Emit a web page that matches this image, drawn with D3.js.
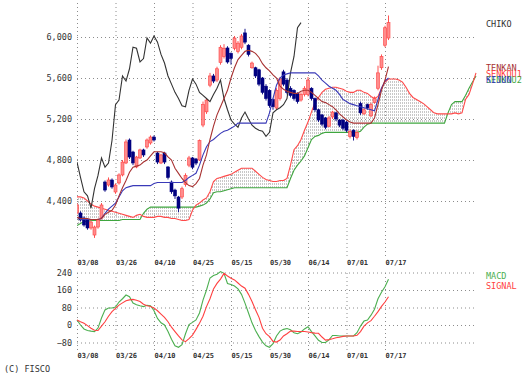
<!DOCTYPE html>
<html>
<head>
<meta charset="utf-8">
<script src="https://cdn.jsdelivr.net/npm/d3@7"></script>
<style>
  body { margin: 0; background: #fff; }
  svg { display: block; }
  text { font-family: "DejaVu Sans Mono", monospace; }
</style>
</head>
<body>
<svg width="531" height="381"></svg>
<script>
// bar index of each date label (one label every 11 trading days)
let tickLabels = ["03/08", "03/26", "04/10", "04/25", "05/15", "05/30", "06/14", "07/01", "07/17"];
let tickIndex = [0, 11, 22, 33, 44, 55, 66, 77, 88];

let priceTicks = [4400, 4800, 5200, 5600, 6000];
let macdTicks = [-80, 0, 80, 160, 240];

// daily candles, 90 bars
let opens = [
    4283, 4283, 4234, 4215, 4137, 4068, 4146, 4234, 4585, 4556,
    4605, 4488, 4576, 4654, 4771, 4995, 4878, 4732, 4820, 4898,
    4927, 4966, 5024, 4868, 4771, 4868, 4732, 4585, 4507, 4439,
    4439, 4560, 4750, 4820, 4810, 4800, 5141, 5270, 5530, 5620,
    5580, 5750, 5810, 5893, 5840, 5890, 5860, 5900, 6040, 5920,
    5700, 5700, 5680, 5600, 5520, 5480, 5390, 5307, 5400, 5660,
    5580, 5500, 5480, 5450, 5385, 5440, 5440, 5500, 5400, 5290,
    5240, 5210, 5130, 5220, 5260, 5190, 5190, 5170, 5030, 5090,
    5020, 5350, 5250, 5340, 5230, 5360, 5500, 5700, 5920, 5990];
let highs = [
    4380, 4300, 4250, 4230, 4210, 4160, 4230, 4380, 4600, 4630,
    4620, 4570, 4670, 4800, 5000, 5010, 4890, 4840, 4910, 4910,
    5010, 5040, 5040, 4880, 4860, 4880, 4740, 4600, 4520, 4450,
    4540, 4670, 4840, 4830, 4820, 5000, 5370, 5400, 5650, 5640,
    5710, 5920, 5930, 5910, 5850, 6010, 5960, 6030, 6080, 5930,
    5760, 5710, 5690, 5610, 5540, 5490, 5400, 5500, 5610, 5680,
    5600, 5520, 5490, 5460, 5460, 5520, 5610, 5510, 5410, 5300,
    5250, 5220, 5230, 5280, 5270, 5200, 5200, 5180, 5100, 5100,
    5090, 5370, 5310, 5350, 5360, 5420, 5720, 5830, 6110, 6210];
let lows = [
    4270, 4200, 4150, 4120, 4120, 4040, 4130, 4220, 4490, 4540,
    4520, 4470, 4560, 4640, 4760, 4810, 4750, 4720, 4810, 4830,
    4910, 4950, 4980, 4760, 4760, 4760, 4610, 4470, 4420, 4290,
    4420, 4540, 4730, 4710, 4750, 4790, 5120, 5250, 5510, 5550,
    5560, 5730, 5790, 5740, 5730, 5870, 5840, 5880, 5930, 5810,
    5690, 5600, 5520, 5440, 5380, 5310, 5290, 5290, 5380, 5520,
    5440, 5410, 5380, 5350, 5370, 5420, 5420, 5380, 5270, 5170,
    5130, 5100, 5120, 5200, 5180, 5120, 5090, 5070, 5010, 4990,
    5000, 5240, 5240, 5290, 5220, 5350, 5480, 5680, 5900, 5970];
let closes = [
    4361, 4215, 4166, 4137, 4195, 4146, 4215, 4361, 4507, 4605,
    4537, 4556, 4654, 4780, 4976, 4829, 4771, 4829, 4898, 4849,
    4995, 5024, 4995, 4780, 4849, 4780, 4630, 4490, 4450, 4330,
    4520, 4650, 4820, 4730, 4770, 4990, 5340, 5385, 5620, 5570,
    5690, 5900, 5890, 5756, 5790, 5990, 5940, 6010, 5950, 5830,
    5746, 5620, 5540, 5460, 5400, 5330, 5320, 5480, 5590, 5540,
    5460, 5430, 5400, 5370, 5440, 5500, 5580, 5400, 5290, 5190,
    5150, 5120, 5210, 5268, 5200, 5140, 5110, 5090, 5080, 5030,
    5070, 5260, 5290, 5310, 5340, 5400, 5650, 5810, 6090, 6140];

let tenkan = [
    4240, 4230, 4230, 4230, 4220, 4220, 4220, 4230, 4270, 4290,
    4310, 4360, 4450, 4530, 4600, 4680, 4730, 4740, 4750, 4780,
    4800, 4840, 4880, 4880, 4880, 4870, 4830, 4800, 4720, 4670,
    4620, 4580, 4550, 4540, 4570, 4620, 4750, 4850, 5000, 5130,
    5240, 5320, 5400, 5480, 5600, 5700, 5780, 5820, 5860, 5870,
    5860, 5840, 5800, 5740, 5700, 5670, 5630, 5600, 5520, 5490,
    5470, 5460, 5450, 5450, 5470, 5480, 5480, 5460, 5430, 5400,
    5370, 5360, 5340, 5320, 5290, 5250, 5220, 5190, 5170, 5160,
    5160, 5160, 5160, 5160, 5160, 5210, 5340, 5480, 5580, 5710];
let kijun = [
    4240, 4220, 4220, 4220, 4220, 4220, 4220, 4230, 4280, 4320,
    4350, 4380, 4440, 4500, 4530, 4540, 4550, 4550, 4550, 4550,
    4550, 4550, 4570, 4580, 4580, 4580, 4580, 4580, 4580, 4580,
    4580, 4600, 4630, 4650, 4670, 4750, 4850, 4930, 4980, 5000,
    5030, 5060, 5080, 5090, 5110, 5130, 5160, 5160, 5160, 5160,
    5160, 5160, 5160, 5160, 5160, 5260, 5400, 5530, 5600, 5630,
    5640, 5650, 5650, 5650, 5650, 5650, 5650, 5650, 5650, 5620,
    5580, 5550, 5520, 5500, 5480, 5440, 5390, 5370, 5350, 5340,
    5330, 5320, 5310, 5300, 5290, 5280, 5390, 5500, 5570, 5600];

// leading spans, already shifted forward: 115 points
let senkou1 = [
    4440, 4440, 4430, 4400, 4370, 4350, 4340, 4330, 4320, 4310,
    4300, 4290, 4280, 4270, 4260, 4250, 4240, 4260, 4270, 4250,
    4240, 4240, 4240, 4250, 4250, 4240, 4240, 4230, 4230, 4220,
    4210, 4210, 4220, 4310, 4360, 4380, 4410, 4430, 4490, 4590,
    4620, 4630, 4640, 4650, 4660, 4680, 4700, 4720, 4720, 4720,
    4720, 4690, 4660, 4630, 4610, 4600, 4590, 4590, 4600, 4600,
    4620, 4750, 4900, 4940, 5000, 5090, 5170, 5270, 5360, 5410,
    5460, 5490, 5500, 5510, 5510, 5500, 5490, 5470, 5460, 5460,
    5480, 5480, 5460, 5450, 5420, 5400, 5420, 5500, 5560, 5590,
    5590, 5590, 5580, 5560, 5510, 5450, 5410, 5390, 5370, 5350,
    5320, 5290, 5260, 5250, 5250, 5250, 5250, 5250, 5260, 5250,
    5260, 5390, 5440, 5540, 5650];
let senkou2 = [
    4160, 4180, 4200, 4200, 4210, 4210, 4210, 4210, 4210, 4210,
    4210, 4210, 4210, 4220, 4220, 4220, 4220, 4220, 4220, 4280,
    4320, 4340, 4340, 4340, 4340, 4340, 4340, 4340, 4340, 4340,
    4340, 4340, 4340, 4340, 4340, 4350, 4360, 4380, 4420, 4480,
    4490, 4490, 4500, 4510, 4520, 4530, 4530, 4530, 4530, 4530,
    4530, 4530, 4530, 4530, 4530, 4530, 4530, 4530, 4530, 4530,
    4530, 4620, 4700, 4750, 4790, 4840, 4920, 5000, 5030, 5040,
    5060, 5070, 5070, 5070, 5070, 5070, 5070, 5070, 5070, 5070,
    5070, 5080, 5120, 5150, 5160, 5160, 5160, 5160, 5160, 5160,
    5160, 5160, 5160, 5160, 5160, 5160, 5160, 5160, 5160, 5160,
    5160, 5160, 5160, 5160, 5160, 5160, 5260, 5340, 5370, 5370,
    5370, 5430, 5500, 5560, 5620];

let macd = [
    23, 0, -18, -25, -28, -30, -14, 32, 69, 78,
    78, 82, 105, 120, 137, 129, 100, 93, 88, 84,
    90, 88, 65, 30, 10, 0, -30, -65, -95, -102,
    -90, -40, 2, 12, 23, 55, 114, 160, 215, 226,
    232, 244, 236, 190, 185, 178, 165, 140, 100, 55,
    10, -25, -53, -78, -95, -102, -85, -50, -28, -20,
    -16, -22, -35, -40, -32, -18, -8, -30, -50, -70,
    -80, -80, -68, -48, -48, -50, -50, -50, -50, -50,
    -35, -5, 18, 23, 45, 72, 120, 150, 175, 209];
let signal = [
    23, 15, 8, -3, -15, -24, -25, -5, 15, 40,
    61, 76, 91, 101, 111, 115, 117, 113, 107, 95,
    88, 85, 78, 65, 50, 35, 15, -10, -30, -50,
    -68, -76, -62, -46, -20, 8, 40, 84, 120, 165,
    190, 210, 236, 224, 214, 206, 192, 178, 168, 140,
    107, 70, 35, -15, -40, -53, -75, -78, -69, -50,
    -40, -28, -28, -30, -30, -30, -32, -35, -37, -38,
    -55, -69, -67, -63, -58, -56, -52, -50, -50, -50,
    -47, -30, -5, 10, 20, 40, 61, 85, 105, 129];

let chikoShift = 25;

(function () {
    'use strict';

    let svg = d3.select("svg");
    svg.append("rect").attr("width", 531).attr("height", 381).attr("fill", "#fff");

    let left = 77, right = 477;
    let x = d3.scaleLinear().domain([0, 114]).range([77, 476]);
    let y = d3.scaleLinear().domain([4400, 6000]).range([201, 37]);
    let ym = d3.scaleLinear().domain([-80, 240]).range([342.5, 272.5]);

    let grid = function (sel) {
        sel.select(".domain").remove();
        sel.selectAll(".tick line")
            .attr("stroke", "#8c8c8c")
            .attr("stroke-dasharray", "1,3");
    };

    // ---- price panel grid + axes
    svg.append("g")
        .attr("transform", "translate(" + left + ",0)")
        .call(d3.axisLeft(y).tickValues(priceTicks).tickSize(-(right - left)).tickPadding(5).tickFormat(d3.format(",")))
        .call(grid)
        .call(g => g.selectAll("text").attr("font-size", "8.5px").attr("fill", "#333").attr("font-family", "DejaVu Sans Mono"));

    svg.append("g")
        .attr("transform", "translate(0,256)")
        .call(d3.axisBottom(x).tickValues(tickIndex).tickSize(-256).tickPadding(4).tickFormat((d, i) => tickLabels[i]))
        .call(grid)
        .call(g => g.selectAll("text").attr("text-anchor", "start").attr("font-size", "7px").attr("font-weight", "bold").attr("fill", "#333").attr("font-family", "DejaVu Sans Mono"));

    // ---- macd panel grid + axes
    svg.append("g")
        .attr("transform", "translate(" + left + ",0)")
        .call(d3.axisLeft(ym).tickValues(macdTicks).tickSize(-(right - left)).tickPadding(5))
        .call(grid)
        .call(g => g.selectAll("text").attr("font-size", "8.5px").attr("fill", "#333").attr("font-family", "DejaVu Sans Mono"));

    svg.append("g")
        .attr("transform", "translate(0,350)")
        .call(d3.axisBottom(x).tickValues(tickIndex).tickSize(-80).tickPadding(3).tickFormat((d, i) => tickLabels[i]))
        .call(grid)
        .call(g => g.selectAll("text").attr("text-anchor", "start").attr("font-size", "7px").attr("font-weight", "bold").attr("fill", "#333").attr("font-family", "DejaVu Sans Mono"));

    // ---- clip + hatch pattern (thin vertical lines)
    let defs = svg.append("defs");
    defs.append("clipPath").attr("id", "clipMain")
        .append("rect").attr("x", left).attr("y", 0).attr("width", right - left + 2).attr("height", 256);
    let pat = defs.append("pattern").attr("id", "hatch")
        .attr("patternUnits", "userSpaceOnUse").attr("width", 2).attr("height", 3);
    pat.append("rect").attr("x", 0).attr("y", 0).attr("width", 1).attr("height", 2).attr("fill", "#c8c8c8");

    let plot = svg.append("g").attr("clip-path", "url(#clipMain)");

    // cloud
    plot.append("path")
        .datum(senkou1)
        .attr("fill", "url(#hatch)")
        .attr("d", d3.area().x((d, i) => x(i)).y0(d => y(d)).y1((d, i) => y(senkou2[i])));

    let drawLine = function (data, color, offset) {
        plot.append("path")
            .datum(data)
            .attr("fill", "none")
            .attr("stroke", color)
            .attr("stroke-width", 1.1)
            .attr("d", d3.line().x((d, i) => x(i + offset)).y(d => y(d)));
    };

    drawLine(senkou2, "#3fa63f", 0);
    drawLine(senkou1, "#ff4a4a", 0);

    // candles
    let bars = plot.selectAll(".bar")
        .data(closes.map((c, i) => ({i: i, o: opens[i], h: highs[i], l: lows[i], c: c})))
        .enter().append("g").attr("class", "bar");

    bars.append("line")
        .attr("x1", d => x(d.i)).attr("x2", d => x(d.i))
        .attr("y1", d => y(d.h)).attr("y2", d => y(d.l))
        .attr("stroke", d => d.c >= d.o ? "#ff5050" : "#1a1a8c")
        .attr("stroke-width", 1);

    bars.append("rect")
        .attr("x", d => x(d.i) - 1.5)
        .attr("width", 3)
        .attr("y", d => y(Math.max(d.o, d.c)))
        .attr("height", d => Math.max(1, Math.abs(y(d.o) - y(d.c))))
        .attr("fill", d => d.c >= d.o ? "#ff8c8c" : "#000080")
        .attr("stroke", d => d.c >= d.o ? "#ff4040" : "#000080")
        .attr("stroke-width", 0.6);

    drawLine(closes.slice(chikoShift), "#333333", 0);
    drawLine(kijun, "#3a3ab8", 0);
    drawLine(tenkan, "#a83232", 0);

    // macd lines
    let mline = d3.line().x((d, i) => x(i)).y(d => ym(d));
    svg.append("path").datum(macd)
        .attr("fill", "none").attr("stroke", "#4caf50").attr("stroke-width", 1.1).attr("d", mline);
    svg.append("path").datum(signal)
        .attr("fill", "none").attr("stroke", "#ff4040").attr("stroke-width", 1.1).attr("d", mline);

    // legends (stacked tightly, as in the original)
    let legend = [
        {t: "CHIKO", c: "#333333", y: 27},
        {t: "TENKAN", c: "#a83232", y: 71},
        {t: "SENKOU1", c: "#ff4040", y: 77},
        {t: "SENKOU2", c: "#3fa63f", y: 83},
        {t: "KIJUN", c: "#3a3ab8", y: 83},
        {t: "MACD", c: "#4caf50", y: 279},
        {t: "SIGNAL", c: "#ff4040", y: 289}
    ];
    svg.selectAll(".leg")
        .data(legend)
        .enter().append("text")
        .attr("class", "leg")
        .attr("x", 486)
        .attr("y", d => d.y)
        .attr("font-size", "8.5px")
        .attr("fill", d => d.c)
        .text(d => d.t);

    svg.append("text")
        .attr("x", 4).attr("y", 372)
        .attr("font-size", "8.5px")
        .attr("fill", "#333")
        .text("(C) FISCO");
}());
</script>
</body>
</html>
